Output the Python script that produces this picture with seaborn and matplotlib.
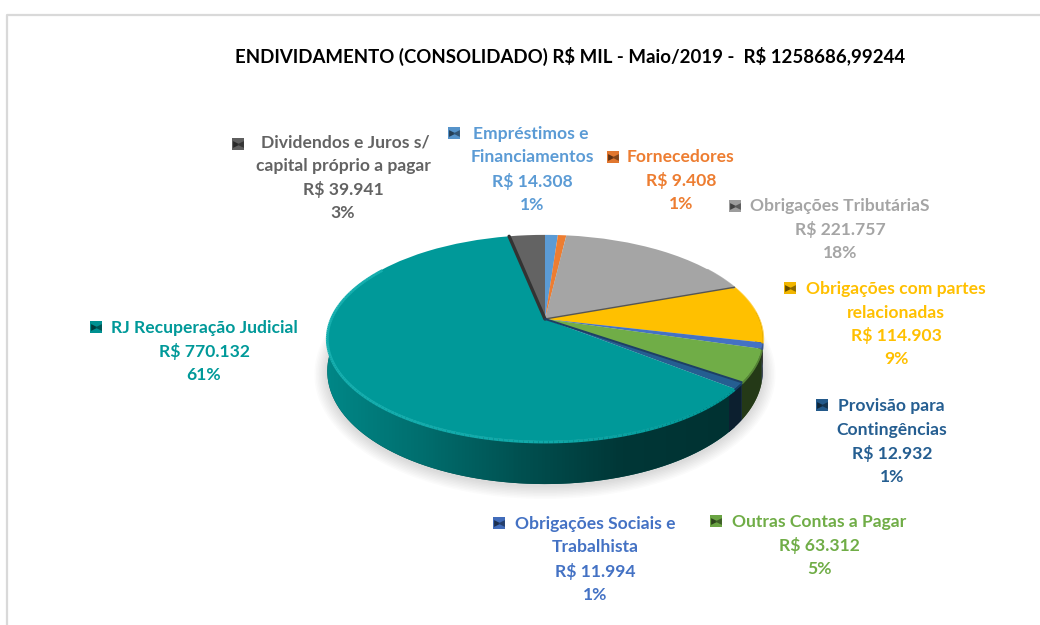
import numpy as np
import matplotlib
matplotlib.use("Agg")
import matplotlib.pyplot as plt
import seaborn as sns
from matplotlib.colors import LinearSegmentedColormap
from matplotlib.transforms import Transform

titulo = "ENDIVIDAMENTO (CONSOLIDADO) R$ MIL - Maio/2019 -  R$ 1258686,99244"
categorias = [
    "Empréstimos e\nFinanciamentos",
    "Fornecedores",
    "Obrigações TributáriaS",
    "Obrigações com partes\nrelacionadas",
    "Obrigações Sociais e\nTrabalhista",
    "Outras Contas a Pagar",
    "Provisão para\nContingências",
    "RJ Recuperação Judicial",
    "Dividendos e Juros s/\ncapital próprio a pagar",
]
valores = [14308, 9408, 221757, 114903, 11994, 63312, 12932, 770132, 39941]
cores = ["#5b9bd5", "#ed7d31", "#a5a5a5", "#ffc000", "#4472c4",
         "#70ad47", "#255e91", "#009999", "#636363"]

# centro do texto (1a linha, demais linhas, y da 1a linha) e marcador
layout_rotulos = [
    (531, 532, 134, 454, 133),
    (681, 681, 157, 613, 157),
    (840, 840, 206, 735, 206),
    (896, 896, 289, 790, 288),
    (595, 595, 524, 499, 523),
    (819, 819, 522, 716, 521),
    (891, 892, 406, 822, 405),
    (204, 204, 328, 96, 327),
    (345, 343, 143, 238, 144),
]

sns.set_theme(style="white")
plt.rcParams["font.family"] = ["Lato", "DejaVu Sans"]
plt.rcParams["text.parse_math"] = False

CX, CY, K, A, C = 545, 319, 214, 99.6, 0.184


def projeta(u, v):
    d = 1 + C * v
    return CX + K * u / d, CY - A * v / d


class Perspectiva(Transform):
    input_dims = 2
    output_dims = 2
    is_separable = False

    def transform_non_affine(self, values):
        x, y = projeta(values[:, 0], values[:, 1])
        return np.column_stack([x, y])


def profundidade(v):
    return 31 - 12 * v


def parede(ang1, ang2, cor, z):
    """Parede lateral de um trecho da borda, com gradiente horizontal."""
    angs = np.radians(np.linspace(ang1, ang2, 120))
    angs = angs[np.sin(angs) < 0.08]
    if len(angs) < 2:
        return
    x, y = projeta(np.cos(angs), np.sin(angs))
    yb = y + profundidade(np.sin(angs))
    poly = ax.fill(np.r_[x, x[::-1]], np.r_[y, yb[::-1]], color=np.array(cor) * 0.5,
                   lw=0, zorder=z)[0]
    paradas = [(0, 0.88), (0.215, 0.72), (0.45, 0.52), (0.675, 0.36), (0.9, 0.33), (1, 0.33)]
    cmap = LinearSegmentedColormap.from_list(
        "w", [(p, tuple(np.array(cor) * f)) for p, f in paradas])
    grad = np.linspace(0, 1, 436).reshape(1, -1)
    im = ax.imshow(grad, extent=(327, 763, 500, 300), cmap=cmap, aspect="auto",
                   vmin=0, vmax=1, zorder=z + 0.1, interpolation="bilinear")
    im.set_clip_path(poly)


fig = plt.figure(figsize=(10.4, 6.25), dpi=100)
ax = fig.add_axes([0, 0, 1, 1])
paleta = sns.color_palette(cores)
wedges, _ = ax.pie(valores, colors=paleta, startangle=90, counterclock=False,
                   wedgeprops=dict(linewidth=0))
for w in wedges:
    w.set_transform(Perspectiva() + ax.transData)
    w.set_zorder(5)

# moldura do print
ax.plot([7, 7, 1040], [625, 15, 15], color="#d9d9d9", lw=1.6, zorder=1)

# sombra embaixo da pizza
t = np.radians(np.linspace(0, 360, 300))
for g in np.arange(1, 14, 1.5):
    xs, ys = projeta(np.cos(t), np.sin(t))
    ys = ys + profundidade(np.sin(t)) + 2
    xm, ym = xs.mean(), ys.mean()
    ax.fill(xm + (xs - xm) * (1 + g / 220), ym + (ys - ym) * (1 + g / 125),
            color="black", alpha=0.014, lw=0, zorder=2)

# parede lateral, escurecendo da esquerda para a direita
for i, (w, cor) in enumerate(zip(wedges, paleta)):
    fim = w.theta2
    # o trecho da Provisão aparece mais largo, invadindo a borda da RJ
    ini = w.theta1 - 2.5 if i == 6 else w.theta1
    parede(ini, fim, cor, 3.5 if i == 6 else 3)

# chanfro claro na borda de cima
for w, cor in zip(wedges, paleta):
    angs = np.radians(np.linspace(w.theta1, w.theta2, 200))
    x, y = projeta(np.cos(angs), np.sin(angs))
    brilho = np.interp(np.cos(angs), [-1, 0, 0.7], [1, 0.7, 0])
    for i in range(0, len(angs) - 1):
        if np.sin(angs[i]) > 0.55:
            continue
        ax.plot(x[i:i + 2], y[i:i + 2] + 1, lw=2.0, solid_capstyle="butt", zorder=6,
                color=np.clip(np.array(cor) + 0.09 * brilho[i], 0, 1))

# linhas escuras entre as fatias
for i, lw, cor_l in [(2, 1.0, "#555555"), (7, 2.4, "#333333"), (5, 1.4, "#1d3f66")]:
    ang = np.radians(wedges[i].theta1)
    x, y = projeta(np.cos(ang), np.sin(ang))
    ax.plot([CX, x], [CY, y], color=cor_l, lw=lw, zorder=7)

ax.text(570.5, 56, titulo, ha="center", va="center", fontsize=13.4,
        fontweight="bold", color="black")

total = sum(valores)
for cat, val, cor, pos in zip(categorias, valores, paleta, layout_rotulos):
    x1, x2, y_ini, mx, my = pos
    linhas = cat.split("\n") + [f"R$ {val:,}".replace(",", "."), f"{val / total:.0%}"]
    for n, linha in enumerate(linhas):
        ax.text(x1 if n == 0 else x2, y_ini + n * 23.5, linha, ha="center", va="center",
                fontsize=12.6, fontweight="bold", color=cor, zorder=8)
    # marcador chanfrado
    ax.scatter([mx], [my], marker="s", s=75, color=np.array(cor) * 0.95, lw=0, zorder=8)
    ax.scatter([mx - 2.4], [my], marker=">", s=24, color=np.array(cor) * 0.4, lw=0, zorder=9)
    ax.scatter([mx + 2.4], [my], marker="<", s=24, color=np.array(cor) * 0.55, lw=0, zorder=9)

ax.set_aspect("auto")
ax.set_xlim(0, 1040)
ax.set_ylim(625, 0)
ax.axis("off")

fig.savefig("out.png", dpi=100, facecolor="white")
